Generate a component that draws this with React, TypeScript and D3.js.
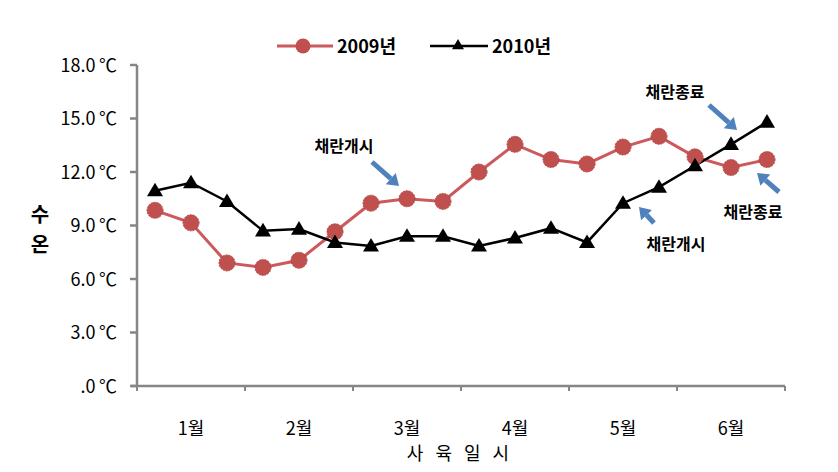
import React from "react";
import * as d3 from "d3";

const months = ["1월", "2월", "3월", "4월", "5월", "6월"];
const yTicks = [0, 3, 6, 9, 12, 15, 18];
const yTickLabels = [".0\u2009℃", "3.0\u2009℃", "6.0\u2009℃", "9.0\u2009℃", "12.0\u2009℃", "15.0\u2009℃", "18.0\u2009℃"];
const series2009 = [9.85, 9.15, 6.9, 6.65, 7.05, 8.65, 10.25, 10.5, 10.35, 12.0, 13.55, 12.7, 12.45, 13.4, 14.0, 12.85, 12.25, 12.7];
const series2010 = [10.95, 11.4, 10.35, 8.7, 8.8, 8.05, 7.85, 8.4, 8.4, 7.85, 8.3, 8.85, 8.05, 10.25, 11.15, 12.35, 13.55, 14.8];
const seriesNames = ["2009년", "2010년"];

const W = 838, H = 472;
const left = 137, right = 785, top = 65, bottom = 386;
const FONT = "'Noto Sans CJK KR', 'Noto Sans', sans-serif";
const RED = "#c0504d";
const RED_LINE = "#cc5a5c";
const BLUE = "#4f81bd";

function Triangle({ x, y, s = 8 }: { x: number; y: number; s?: number }) {
  return <path d={`M${x},${y - s} L${x + s},${y + s * 0.7} L${x - s},${y + s * 0.7} Z`} fill="#000" />;
}

function Arrow({ x1, y1, x2, y2 }: { x1: number; y1: number; x2: number; y2: number }) {
  const ang = Math.atan2(y2 - y1, x2 - x1);
  const len = 11, wid = 7.5;
  const bx = x2 - len * Math.cos(ang), by = y2 - len * Math.sin(ang);
  const px = -Math.sin(ang), py = Math.cos(ang);
  return (
    <g>
      <line x1={x1} y1={y1} x2={bx} y2={by} stroke={BLUE} strokeWidth={5} />
      <path d={`M${x2},${y2} L${bx + px * wid},${by + py * wid} L${bx - px * wid},${by - py * wid} Z`} fill={BLUE} />
    </g>
  );
}

export default function App() {
  const y = d3.scaleLinear().domain([0, 18]).range([bottom, top]);
  const xi = d3.scaleLinear().domain([0, 18]).range([left, right]);
  const xb = d3.scaleBand<string>().domain(months).range([left, right]);
  const line = d3.line<number>().x((_, i) => xi(i + 0.5)).y((d) => y(d));
  const boundaries = d3.range(months.length + 1).map((i) => left + i * xb.bandwidth());

  return (
    <svg width={W} height={H} style={{ position: "absolute", left: 0, top: 0, background: "#fff" }} fontFamily={FONT}>
      <rect width={W} height={H} fill="#fff" />
      {/* axes */}
      <line x1={left} y1={top} x2={left} y2={bottom} stroke="#868686" strokeWidth={2.5} />
      <line x1={left - 6} y1={bottom} x2={right} y2={bottom} stroke="#868686" strokeWidth={2.5} />
      {yTicks.map((t, i) => (
        <g key={t}>
          <line x1={left - 7} x2={left} y1={y(t)} y2={y(t)} stroke="#868686" strokeWidth={2.5} />
          <text x={117} y={y(t) + 6.5} textAnchor="end" fontSize={18} fill="#000">{yTickLabels[i]}</text>
        </g>
      ))}
      {boundaries.map((b, i) => (
        <line key={i} x1={b} x2={b} y1={bottom} y2={bottom + 5} stroke="#868686" strokeWidth={2} />
      ))}
      {months.map((m) => (
        <text key={m} x={(xb(m) as number) + xb.bandwidth() / 2} y={435} textAnchor="middle" fontSize={18} fill="#000">{m}</text>
      ))}
      <text x={460} y={460} textAnchor="middle" fontSize={18} fill="#000" letterSpacing={4}>사 육 일 시</text>
      <text x={40} y={222} textAnchor="middle" fontSize={20} fontWeight="bold" fill="#000">수</text>
      <text x={40} y={252} textAnchor="middle" fontSize={20} fontWeight="bold" fill="#000">온</text>

      {/* series lines */}
      <path d={line(series2009) || ""} fill="none" stroke={RED_LINE} strokeWidth={3} />
      <path d={line(series2010) || ""} fill="none" stroke="#000" strokeWidth={2.5} />
      {series2009.map((v, i) => (
        <circle key={"a" + i} cx={xi(i + 0.5)} cy={y(v)} r={8} fill={RED} stroke="#b04442" strokeWidth={1} strokeDasharray="2 1" />
      ))}
      {series2010.map((v, i) => (
        <Triangle key={"b" + i} x={xi(i + 0.5)} y={y(v)} s={8} />
      ))}

      {/* legend */}
      <line x1={277} x2={333} y1={46} y2={46} stroke={RED_LINE} strokeWidth={3} />
      <circle cx={303} cy={46} r={7.5} fill={RED} />
      <text x={337} y={53} fontSize={18} fontWeight="bold" fill="#000">{seriesNames[0]}</text>
      <line x1={430} x2={488} y1={46} y2={46} stroke="#000" strokeWidth={2.5} />
      <Triangle x={458} y={45} s={6} />
      <text x={492} y={53} fontSize={18} fontWeight="bold" fill="#000">{seriesNames[1]}</text>

      {/* annotations */}
      <text x={344} y={152} textAnchor="middle" fontSize={16} fontWeight="bold" fill="#000">채란개시</text>
      <Arrow x1={372} y1={162} x2={399} y2={186} />
      <text x={675} y={98} textAnchor="middle" fontSize={16} fontWeight="bold" fill="#000">채란종료</text>
      <Arrow x1={709} y1={105} x2={737} y2={130} />
      <text x={676} y={250} textAnchor="middle" fontSize={16} fontWeight="bold" fill="#000">채란개시</text>
      <Arrow x1={654} y1={223} x2={639} y2={207} />
      <text x={753} y={218} textAnchor="middle" fontSize={16} fontWeight="bold" fill="#000">채란종료</text>
      <Arrow x1={779} y1={192} x2={757} y2={173} />
    </svg>
  );
}
